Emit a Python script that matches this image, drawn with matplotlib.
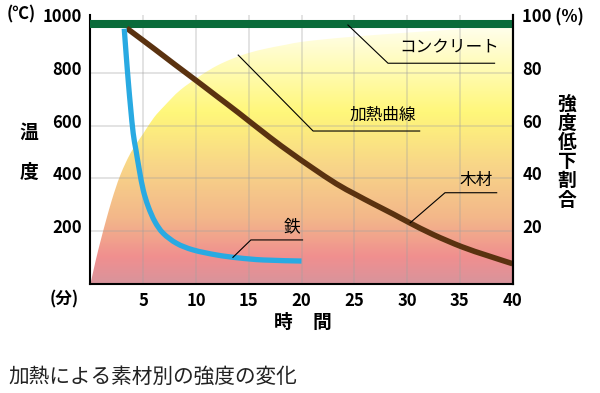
import numpy as np
import matplotlib
matplotlib.use('Agg')
import matplotlib.pyplot as plt
from matplotlib.colors import LinearSegmentedColormap
from matplotlib.patches import PathPatch
from matplotlib.path import Path
from matplotlib.transforms import ScaledTranslation

plt.rcParams['font.family'] = ['Noto Sans CJK JP', 'DejaVu Sans']

# 加熱曲線 (分, ℃)
heat_t = [0, 0.5, 1, 1.5, 2, 2.4, 2.8, 3.4, 4, 5, 6, 7, 8.5, 10.5, 12, 13.5, 15, 16.7,
          18.5, 20, 22.5, 25, 30, 35, 40]
heat_T = [0, 90, 170, 245, 315, 365, 410, 465, 510, 570, 630, 675, 735, 792, 828, 855, 876, 893,
          907, 918, 929, 938, 953, 966, 977]
# 木材
wood_t = [3.43, 6, 8, 10, 12, 14, 17, 19, 21, 23.3, 25.1, 26.8, 28.7, 30.2, 32.5, 35.2, 37.6, 40]
wood_T = [970, 893, 832, 772, 711, 650, 556, 497, 441, 380, 340, 304, 265, 233, 187, 141, 108, 77]
# 鉄
iron_t = [3.2, 3.4, 3.6, 3.8, 4.05, 4.31, 4.63, 5.0, 5.48, 6.11, 6.9, 8.17, 9.74, 11.96, 14, 16.4, 20]
iron_T = [968, 860, 760, 670, 571, 508, 432, 356, 293, 236, 192, 154, 129, 110, 99, 91, 87]
# コンクリート
conc_T = 987

x_ticks = [5, 10, 15, 20, 25, 30, 35, 40]
y_ticks = [200, 400, 600, 800, 1000]
y_labels = ['200', '400', '600', '800', '1000']
r_ticks = [20, 40, 60, 80, 100]
r_labels = ['20', '40', '60', '80', '100 (%)']


def smooth_path(xs, ys):
    # 点を通る滑らかな曲線 (Catmull-Rom を3次ベジェで描く)
    p = np.column_stack([xs, ys]).astype(float)
    n = len(p)
    verts = [p[0]]
    codes = [Path.MOVETO]
    for i in range(n - 1):
        p0 = p[max(i - 1, 0)]
        p1, p2 = p[i], p[i + 1]
        p3 = p[min(i + 2, n - 1)]
        verts += [p1 + (p2 - p0) / 6, p2 - (p3 - p1) / 6, p2]
        codes += [Path.CURVE4] * 3
    return verts, codes


fig = plt.figure(figsize=(6, 3.93), dpi=100)
ax = fig.add_axes([0.1508, 0.2774, 0.7034, 0.6845])
ax.set_xlim(0, 40)
ax.set_ylim(0, 1020)

# グラデーション塗り
stops = [(0.0, '#d8949c'), (0.1, '#f08f8f'), (0.25, '#f3b78a'), (0.45, '#f8d688'),
         (0.65, '#fff77a'), (0.85, '#fffcc0'), (1.0, '#fffff5')]
cmap = LinearSegmentedColormap.from_list('heat', stops)
grad = np.linspace(0, 1, 256).reshape(-1, 1)
im = ax.imshow(grad, cmap=cmap, extent=[0, 40, 0, 1000], origin='lower', aspect='auto', zorder=1)
hv, hc = smooth_path(heat_t, heat_T)
hv += [(heat_t[-1], 0), (heat_t[0], 0), (heat_t[0], 0)]
hc += [Path.LINETO, Path.LINETO, Path.CLOSEPOLY]
clip = PathPatch(Path(hv, hc), facecolor='none', edgecolor='none', transform=ax.transData)
ax.add_patch(clip)
im.set_clip_path(clip)

# グリッド
for xv in x_ticks[:-1]:
    ax.axvline(xv, color='#a0a0a0', alpha=0.32, lw=1.3, zorder=2)
for yv in y_ticks[:-1]:
    ax.axhline(yv, color='#a0a0a0', alpha=0.32, lw=1.3, zorder=2)

ax.axhline(conc_T, color='#0a6b3a', lw=5.8, zorder=4)
for xs, ys, col, lw in [(wood_t, wood_T, '#5a3210', 4.0), (iron_t, iron_T, '#29aae2', 3.8)]:
    v, c = smooth_path(xs, ys)
    ax.add_patch(PathPatch(Path(v, c), facecolor='none', edgecolor=col, lw=lw,
                           capstyle='butt', zorder=4))

# 引き出し線とラベル
lk = dict(color='black', lw=0.8, zorder=5)
ax.plot([24.4, 28.2, 38.3], [982, 837, 837], **lk)
ax.text(29.3, 895, 'コンクリート', fontsize=12, ha='left', va='center')
ax.plot([14.0, 21.1, 31.2], [868, 580, 580], **lk)
ax.text(24.6, 641, '加熱曲線', fontsize=12, ha='left', va='center')
ax.plot([30.3, 33.6, 38.5], [232, 346, 346], **lk)
ax.text(35.0, 391, '木材', fontsize=12, ha='left', va='center')
ax.plot([13.5, 15.2, 20.1], [101, 167, 167], **lk)
ax.text(18.3, 217, '鉄', fontsize=12, ha='left', va='center')

# 軸
for s in ['left', 'right', 'bottom']:
    ax.spines[s].set_linewidth(1.5)
ax.spines['top'].set_visible(False)
ax.set_xticks(x_ticks)
ax.set_xticklabels([str(v) for v in x_ticks], fontsize=12, fontweight='bold')
ax.set_yticks(y_ticks)
ax.set_yticklabels(y_labels, fontsize=12, fontweight='bold')
ax.tick_params(length=0)
ax.tick_params(axis='x', pad=6)
ax.tick_params(axis='y', pad=6)
up = ScaledTranslation(0, 5 / 100, fig.dpi_scale_trans)
for lab in ax.get_yticklabels():
    lab.set_transform(lab.get_transform() + up)

ax2 = ax.twinx()
ax2.set_ylim(0, 102)
ax2.set_yticks(r_ticks)
ax2.set_yticklabels(r_labels, fontsize=12, fontweight='bold')
ax2.tick_params(length=0, pad=7)
for lab in ax2.get_yticklabels():
    lab.set_transform(lab.get_transform() + up)
for s in ['left', 'top', 'bottom']:
    ax2.spines[s].set_visible(False)
ax2.spines['right'].set_linewidth(1.5)

# 軸タイトル類 (ピクセル位置 → 図座標)
def fx(px):
    return px / 600

def fy(py):
    return 1 - py / 393

fig.text(fx(7), fy(14), '(℃)', fontsize=12, fontweight='bold', ha='left', va='center')
fig.text(fx(29), fy(132), '温', fontsize=13.5, fontweight='bold', ha='center', va='center')
fig.text(fx(29), fy(172), '度', fontsize=13.5, fontweight='bold', ha='center', va='center')
for i, ch in enumerate('強度低下割合'):
    fig.text(fx(567), fy(104 + 19.2 * i), ch, fontsize=13.5, fontweight='bold',
             ha='center', va='center')
fig.text(fx(50), fy(299), '(分)', fontsize=12, fontweight='bold', ha='left', va='center')
fig.text(fx(283), fy(322), '時', fontsize=13.5, fontweight='bold', ha='center', va='center')
fig.text(fx(322), fy(322), '間', fontsize=13.5, fontweight='bold', ha='center', va='center')
fig.text(fx(8), fy(377), '加熱による素材別の強度の変化', fontsize=14.9, color='#222222',
         ha='left', va='center')

fig.savefig('out.png', dpi=100)
